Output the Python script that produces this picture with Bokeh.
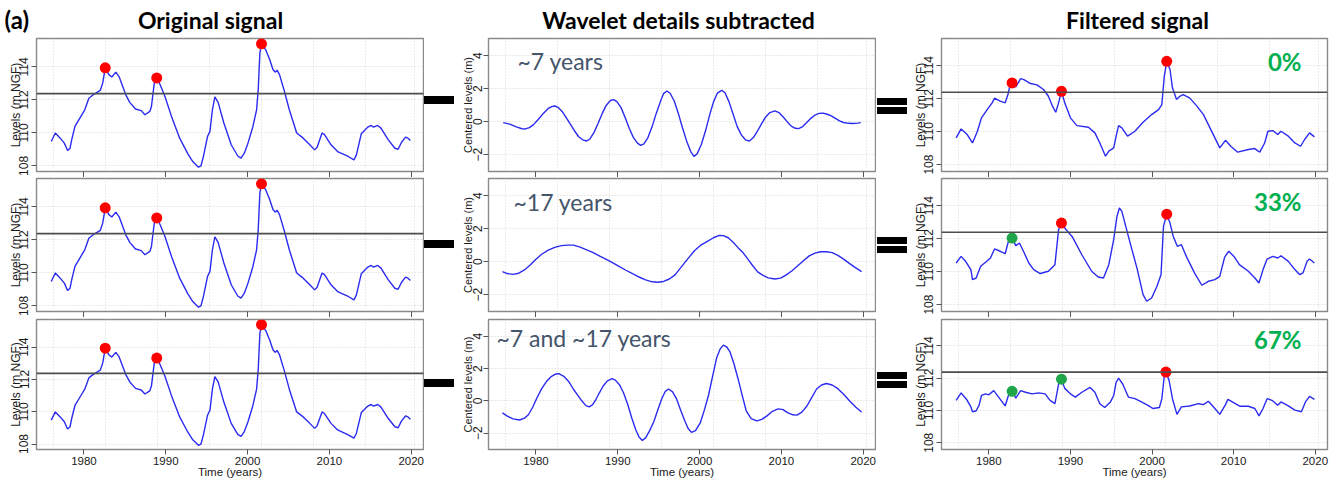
from bokeh.plotting import figure
from bokeh.models import Span, Label, FixedTicker, Range1d, Div, ColumnDataSource
from bokeh.layouts import row, column
from bokeh.core.properties import value
from bokeh.embed import file_html
from bokeh.resources import INLINE

# ---------------- data ----------------
orig_year = [1976.0, 1976.5, 1977.1, 1977.6, 1978.0, 1978.3, 1978.5, 1978.9, 1979.5, 1980.1, 1980.6, 1981.1,
             1982.0, 1982.3, 1982.6, 1983.05, 1983.4, 1983.9, 1984.3, 1985.1, 1985.6, 1986.3, 1987.0, 1987.45,
             1988.05, 1988.25, 1988.6, 1988.9, 1989.3, 1989.9, 1990.7, 1991.7, 1992.7, 1993.3, 1994.0, 1994.3,
             1994.6, 1995.1, 1995.4, 1995.7, 1996.0, 1996.4, 1997.1, 1998.0, 1998.8, 1999.2, 1999.6, 2000.05,
             2000.65, 2001.1, 2001.3, 2001.5, 2001.7, 2002.2, 2002.7, 2003.1, 2003.4, 2003.6, 2003.9, 2004.5,
             2005.1, 2006.0, 2006.8, 2007.6, 2008.2, 2008.5, 2009.1, 2009.4, 2010.2, 2011.0, 2012.3, 2013.0,
             2013.3, 2013.9, 2014.7, 2015.1, 2015.4, 2015.9, 2016.3, 2017.2, 2018.0, 2018.4, 2018.8, 2019.3,
             2019.6, 2019.9]
orig_level = [109.48, 109.99, 109.68, 109.38, 108.93, 109.07, 109.58, 110.39, 110.9, 111.4, 112.1, 112.3,
              112.58, 113.03, 113.94, 113.53, 113.39, 113.68, 113.4, 112.32, 111.85, 111.45, 111.35, 111.1,
              111.3, 111.6, 113.03, 113.33, 112.93, 112.2, 111.0, 109.68, 108.73, 108.26, 107.92, 108.0,
              108.57, 109.78, 110.09, 111.4, 112.18, 111.85, 110.6, 109.28, 108.6, 108.47, 108.77, 109.38,
              110.39, 111.4, 112.62, 114.85, 115.4, 115.05, 114.45, 113.84, 113.68, 113.8, 113.53, 112.52,
              111.4, 109.99, 109.68, 109.28, 108.97, 109.13, 109.99, 109.89, 109.28, 108.87, 108.57, 108.36,
              108.67, 109.95, 110.35, 110.45, 110.35, 110.45, 110.29, 109.58, 109.07, 109.01, 109.42, 109.74,
              109.68, 109.54]
orig_peak_year = [1982.6, 1988.9, 2001.7]
orig_peak_level = [113.94, 113.33, 115.4]

d7_year = [1976.0, 1976.8, 1977.6, 1978.3, 1978.7, 1979.2, 1979.7, 1980.3, 1980.9, 1981.5, 1982.0, 1982.3,
           1982.7, 1983.2, 1983.7, 1984.2, 1984.7, 1985.2, 1985.7, 1986.2, 1986.6, 1987.1, 1987.6, 1988.1,
           1988.6, 1989.1, 1989.5, 1989.9, 1990.4, 1990.9, 1991.4, 1991.9, 1992.4, 1992.8, 1993.2, 1993.7,
           1994.2, 1994.7, 1995.2, 1995.6, 1996.0, 1996.4, 1996.9, 1997.4, 1997.9, 1998.4, 1998.9, 1999.3,
           1999.7, 2000.2, 2000.7, 2001.2, 2001.7, 2002.2, 2002.7, 2003.1, 2003.6, 2004.1, 2004.6, 2005.1,
           2005.6, 2006.1, 2006.6, 2007.1, 2007.6, 2008.1, 2008.6, 2009.2, 2009.7, 2010.2, 2010.7, 2011.2,
           2011.7, 2012.1, 2012.6, 2013.1, 2013.6, 2014.1, 2014.6, 2015.1, 2015.6, 2016.1, 2016.6, 2017.1,
           2017.6, 2018.2, 2018.8, 2019.3, 2019.7]
d7_value = [-0.06, -0.15, -0.32, -0.43, -0.44, -0.36, -0.18, 0.15, 0.5, 0.8, 0.93, 0.95,
            0.87, 0.62, 0.25, -0.15, -0.55, -0.9, -1.1, -1.17, -1.05, -0.65, -0.1, 0.5,
            1.0, 1.28, 1.34, 1.22, 0.85, 0.25, -0.4, -0.95, -1.3, -1.44, -1.35, -0.95,
            -0.3, 0.5, 1.2, 1.7, 1.86, 1.72, 1.25, 0.5, -0.35, -1.15, -1.8, -2.1,
            -1.95, -1.4, -0.6, 0.35, 1.2, 1.75, 1.9, 1.75, 1.2, 0.45, -0.3, -0.8,
            -1.1, -1.17, -0.95, -0.55, -0.1, 0.3, 0.55, 0.65, 0.55, 0.3, 0.0, -0.27,
            -0.4, -0.42, -0.3, -0.05, 0.2, 0.4, 0.5, 0.52, 0.45, 0.35, 0.2, 0.05,
            -0.05, -0.1, -0.11, -0.09, -0.06]

d17_year = [1975.9, 1976.5, 1977.2, 1977.9, 1978.6, 1979.3, 1980.0, 1980.7, 1981.5, 1982.3, 1983.1, 1983.9,
            1984.6, 1985.4, 1986.2, 1987.0, 1987.8, 1988.6, 1989.4, 1990.2, 1991.0, 1991.8, 1992.6, 1993.4,
            1994.2, 1994.9, 1995.6, 1996.3, 1997.0, 1997.8, 1998.6, 1999.4, 2000.2, 2000.9, 2001.7, 2002.4,
            2002.9, 2003.5, 2004.1, 2004.7, 2005.3, 2005.9, 2006.5, 2007.1, 2007.8, 2008.4, 2009.2, 2009.9,
            2010.6, 2011.3, 2012.0, 2012.7, 2013.4, 2014.1, 2014.8, 2015.5, 2016.2, 2016.9, 2017.6, 2018.3,
            2019.0, 2019.8]
d17_value = [-0.6, -0.72, -0.77, -0.7, -0.5, -0.2, 0.15, 0.45, 0.7, 0.87, 0.97, 1.0,
             1.0, 0.88, 0.72, 0.55, 0.33, 0.14, -0.08, -0.3, -0.52, -0.73, -0.93, -1.1,
             -1.22, -1.25, -1.2, -1.05, -0.8, -0.3, 0.2, 0.68, 1.02, 1.22, 1.45, 1.59,
             1.58, 1.45, 1.18, 0.85, 0.55, 0.15, -0.25, -0.62, -0.85, -0.98, -1.05, -1.0,
             -0.8, -0.55, -0.25, 0.05, 0.35, 0.52, 0.6, 0.6, 0.55, 0.38, 0.15, -0.1,
             -0.35, -0.6]

d717_year = [1975.9, 1976.5, 1977.2, 1978.0, 1978.6, 1979.1, 1979.6, 1980.1, 1980.7, 1981.3, 1981.9, 1982.4,
             1982.8, 1983.4, 1984.0, 1984.6, 1985.1, 1985.6, 1986.1, 1986.5, 1986.9, 1987.3, 1987.7, 1988.2,
             1988.7, 1989.3, 1989.7, 1990.2, 1990.7, 1991.2, 1991.7, 1992.2, 1992.6, 1993.0, 1993.4, 1993.9,
             1994.4, 1994.9, 1995.4, 1995.8, 1996.2, 1996.7, 1997.2, 1997.7, 1998.2, 1998.6, 1999.0, 1999.5,
             2000.1, 2000.6, 2001.1, 2001.6, 2002.1, 2002.5, 2002.9, 2003.3, 2003.7, 2004.2, 2004.7, 2005.2,
             2005.7, 2006.3, 2007.0, 2007.6, 2008.2, 2008.9, 2009.6, 2010.2, 2010.8, 2011.4, 2011.9, 2012.5,
             2013.1, 2013.7, 2014.3, 2014.9, 2015.5, 2016.2, 2016.9, 2017.6, 2018.4, 2019.1, 2019.8]
d717_value = [-0.75, -0.95, -1.12, -1.19, -1.08, -0.85, -0.4, 0.16, 0.75, 1.21, 1.52, 1.66,
              1.68, 1.52, 1.2, 0.7, 0.35, 0.0, -0.3, -0.38, -0.25, 0.05, 0.45, 0.9,
              1.22, 1.37, 1.28, 1.0, 0.5, -0.2, -1.05, -1.8, -2.25, -2.46, -2.3, -1.85,
              -1.3, -0.55, 0.16, 0.58, 0.73, 0.55, 0.1, -0.6, -1.25, -1.72, -1.96, -1.85,
              -1.35, -0.55, 0.36, 1.55, 2.69, 3.2, 3.45, 3.35, 3.05, 2.3, 1.37, 0.35,
              -0.62, -1.1, -1.25, -1.15, -0.95, -0.65, -0.5, -0.55, -0.75, -0.87, -0.89, -0.7,
              -0.34, 0.2, 0.73, 0.98, 1.07, 0.98, 0.75, 0.4, -0.04, -0.4, -0.69]

f0_year = [1976.0, 1976.6, 1977.35, 1978.0, 1978.6, 1979.1, 1979.8, 1980.4, 1980.7, 1981.4, 1982.0, 1982.4,
           1982.6, 1982.85, 1983.3, 1983.9, 1984.3, 1985.1, 1985.9, 1986.7, 1987.3, 1987.8, 1988.2, 1988.55,
           1988.9, 1989.3, 1990.0, 1990.8, 1992.2, 1993.0, 1993.6, 1994.3, 1994.7, 1995.3, 1995.6, 1995.9,
           1996.3, 1997.0, 1997.9, 1998.9, 1999.95, 2000.8, 2001.2, 2001.5, 2001.8, 2002.2, 2002.5, 2003.0,
           2003.4, 2003.8, 2004.6, 2005.5, 2006.3, 2006.9, 2007.7, 2008.3, 2009.0, 2009.65, 2010.5, 2011.8,
           2012.6, 2013.2, 2013.8, 2014.2, 2014.8, 2015.4, 2015.8, 2016.7, 2017.5, 2018.2, 2018.7, 2019.3,
           2019.9]
f0_level = [109.62, 110.16, 109.82, 109.31, 110.02, 110.83, 111.33, 111.74, 112.02, 111.84, 111.74, 112.34,
            112.85, 112.95, 112.7, 113.21, 113.15, 112.91, 112.83, 112.55, 112.14, 111.54, 111.17, 111.74,
            112.44, 111.74, 110.83, 110.36, 110.26, 109.92, 109.31, 108.51, 108.81, 109.01, 109.72, 110.36,
            110.22, 109.72, 110.02, 110.57, 111.03, 111.33, 111.64, 113.35, 114.26, 113.76, 112.65, 111.94,
            112.14, 112.24, 112.04, 111.54, 111.03, 110.42, 109.62, 109.01, 109.47, 109.11, 108.75, 108.91,
            108.97, 108.75, 109.31, 110.02, 110.06, 109.82, 110.02, 109.72, 109.31, 109.11, 109.52, 109.92,
            109.68]
f0_peak_year = [1982.85, 1988.9, 2001.8]
f0_peak_level = [112.95, 112.44, 114.26]
f0_peak_status = ["above", "above", "above"]

f33_year = [1976.0, 1976.6, 1977.15, 1977.8, 1978.0, 1978.45, 1979.0, 1979.6, 1980.2, 1980.7, 1981.4, 1982.0,
            1982.4, 1982.85, 1983.3, 1983.75, 1984.3, 1984.9, 1985.5, 1986.3, 1987.3, 1988.1, 1988.55, 1988.9,
            1989.4, 1990.2, 1991.4, 1992.6, 1993.4, 1994.05, 1994.7, 1995.3, 1995.7, 1996.0, 1996.3, 1997.1,
            1998.2, 1998.9, 1999.35, 1999.95, 2000.6, 2001.1, 2001.4, 2001.8, 2002.2, 2002.6, 2003.1, 2003.6,
            2004.2, 2005.2, 2006.1, 2006.9, 2007.7, 2008.3, 2008.9, 2009.4, 2010.1, 2010.7, 2011.8, 2012.6,
            2013.1, 2013.6, 2014.1, 2014.8, 2015.4, 2015.8, 2016.7, 2017.5, 2018.1, 2018.5, 2019.0, 2019.3,
            2019.9]
f33_level = [110.52, 110.92, 110.62, 110.12, 109.51, 109.61, 110.32, 110.56, 110.82, 111.37, 111.23, 111.08,
             111.83, 112.03, 111.57, 111.73, 111.17, 110.52, 110.12, 109.88, 110.02, 110.42, 112.54, 112.94,
             112.58, 112.13, 111.02, 110.02, 109.67, 109.61, 110.42, 111.93, 113.34, 113.85, 113.65, 112.13,
             110.12, 108.6, 108.2, 108.4, 109.11, 109.81, 112.74, 113.48, 112.94, 112.13, 111.53, 111.63,
             110.92, 109.92, 109.17, 109.41, 109.51, 109.71, 110.88, 111.23, 110.88, 110.42, 110.02, 109.61,
             109.31, 110.12, 110.76, 110.92, 110.82, 110.96, 110.62, 110.12, 109.81, 109.92, 110.62, 110.76,
             110.52]
f33_peak_year = [1982.85, 1988.9, 2001.8]
f33_peak_level = [112.03, 112.94, 113.48]
f33_peak_status = ["below", "above", "above"]

f67_year = [1976.0, 1976.6, 1977.35, 1977.8, 1978.0, 1978.45, 1978.8, 1979.1, 1979.6, 1980.0, 1980.6, 1981.2,
            1982.0, 1982.4, 1982.85, 1983.3, 1983.9, 1984.5, 1985.3, 1986.1, 1986.9, 1987.5, 1988.1, 1988.55,
            1988.9, 1989.3, 1990.0, 1990.6, 1991.4, 1992.4, 1993.0, 1993.6, 1994.2, 1994.9, 1995.3, 1995.6,
            1995.9, 1996.4, 1997.1, 1997.9, 1998.7, 1999.5, 2000.1, 2000.9, 2001.2, 2001.5, 2001.7, 2002.1,
            2002.5, 2003.05, 2003.6, 2004.6, 2005.7, 2006.3, 2006.9, 2007.7, 2008.3, 2009.0, 2009.3, 2010.2,
            2010.8, 2011.8, 2012.6, 2013.1, 2013.6, 2014.1, 2014.7, 2015.4, 2015.8, 2016.7, 2017.5, 2018.3,
            2018.8, 2019.3, 2019.9]
f67_level = [110.63, 111.09, 110.63, 110.22, 109.92, 109.98, 110.32, 110.93, 111.03, 110.97, 111.23, 110.83,
             110.28, 110.93, 111.19, 110.77, 111.23, 111.13, 111.03, 111.09, 111.03, 110.63, 110.42, 111.64,
             111.94, 111.37, 111.03, 110.83, 111.13, 111.43, 111.13, 110.42, 110.18, 110.53, 110.93, 111.74,
             112.0, 111.64, 110.83, 110.73, 110.53, 110.32, 110.12, 110.18, 110.73, 112.14, 112.38, 111.84,
             110.73, 109.76, 110.22, 110.28, 110.42, 110.36, 110.57, 110.12, 109.76, 110.36, 110.69, 110.42,
             110.26, 110.26, 110.12, 109.66, 110.12, 110.73, 110.63, 110.32, 110.53, 110.28, 110.02, 109.92,
             110.53, 110.87, 110.69]
f67_peak_year = [1982.85, 1988.9, 2001.7]
f67_peak_level = [111.19, 111.94, 112.38]
f67_peak_status = ["below", "below", "above"]

THRESHOLD = 112.38
year_ticks = [1980, 1990, 2000, 2010, 2020]
grid_years = [1976.3, 1982.65, 1989.0, 1995.35, 2001.7, 2008.05, 2014.4, 2020.4]
level_ticks = [108, 110, 112, 114]
centered_ticks = [-2, 0, 2, 4]

panel_tag = "(a)"
column_titles = ["Original signal", "Wavelet details subtracted", "Filtered signal"]
detail_labels = ["~7 years", "~17 years", "~7 and ~17 years"]
percent_labels = ["0%", "33%", "67%"]
y_labels = ["Levels (m NGF)", "Centered levels (m)", "Levels (m NGF)"]
x_label = "Time (years)"

# ---------------- styling / geometry (page has no margin) ----------------
HEADER_H = 37
X_RANGE = (1974.2, 2021.5)
Y_RANGES = [(107.66, 115.72), (-3.02, 5.04), (107.58, 115.64)]
FIG_W = [424, 418, 425]
BORDER_L = [36, 30, 30]
BORDER_R = [1, 1, 8]
FIG_H = [140, 140, 163]
BORDER_T = [1, 1, 2]
BORDER_B = [6, 6, 31]
DIV_W = 34
TITLE_CX = [210, 678, 1137]
TAG_X = 4
HEADER_TEXT_Y = 18
DETAIL_POS = [(29, 111), (25, 109.5), (8, 112)]
PERCENT_POS = (360, 110.5)

BLUE = "#2b2bf0"
STATUS_COLOR = {"above": "#ff0000", "below": "#1fa64a"}
TICK_FONT = "Liberation Sans"
TOTAL_W = sum(FIG_W) + 2 * DIV_W


def make_header():
    h = figure(width=TOTAL_W, height=HEADER_H, x_range=Range1d(0, TOTAL_W), y_range=Range1d(0, HEADER_H),
               output_backend="svg", toolbar_location=None, min_border=0)
    h.axis.visible = False
    h.grid.visible = False
    h.outline_line_color = None
    h.background_fill_color = "white"
    h.border_fill_color = "white"
    h.text(x=TITLE_CX, y=[HEADER_TEXT_Y] * 3, text=column_titles, text_font=value("Lato"),
           text_font_style="bold", text_font_size="23px", text_align="center", text_baseline="middle",
           text_color="#000000")
    h.text(x=[TAG_X], y=[HEADER_TEXT_Y], text=[panel_tag], text_font=value("Lato"),
           text_font_style="bold", text_font_size="24px", text_align="left", text_baseline="middle",
           text_color="#000000")
    return h


def make_panel(ci, ri):
    p = figure(width=FIG_W[ci], height=FIG_H[ri], x_range=Range1d(*X_RANGE), y_range=Range1d(*Y_RANGES[ci]),
               output_backend="svg", toolbar_location=None,
               min_border_left=BORDER_L[ci], min_border_right=BORDER_R[ci],
               min_border_top=BORDER_T[ri], min_border_bottom=BORDER_B[ri])
    p.outline_line_color = "#8a8a8a"
    p.outline_line_width = 1.4
    p.background_fill_color = "white"
    p.border_fill_color = "white"

    xa = p.xaxis[0]
    xa.ticker = FixedTicker(ticks=year_ticks)
    xa.major_tick_out = 6 if ri != 2 else 5
    xa.major_tick_in = 0
    xa.minor_tick_out = 0
    xa.minor_tick_in = 0
    xa.axis_line_color = "#8a8a8a"
    xa.major_tick_line_color = "#555555"
    xa.major_label_text_font = TICK_FONT
    if ri == 2:
        xa.major_label_text_color = "#1a1a1a"
        xa.major_label_text_font_size = "11.5px"
        xa.major_label_standoff = 2
        xa.axis_label = x_label
        xa.axis_label_text_font = TICK_FONT
        xa.axis_label_text_font_style = "normal"
        xa.axis_label_text_font_size = "11.5px"
        xa.axis_label_text_color = "#1a1a1a"
        xa.axis_label_standoff = -2
    else:
        xa.major_label_text_color = None
        xa.major_label_text_font_size = "0px"
        xa.major_label_standoff = 0

    ya = p.yaxis[0]
    ya.ticker = FixedTicker(ticks=centered_ticks if ci == 1 else level_ticks)
    ya.major_tick_out = 5
    ya.major_tick_in = 0
    ya.minor_tick_out = 0
    ya.minor_tick_in = 0
    ya.axis_line_color = "#8a8a8a"
    ya.major_tick_line_color = "#555555"
    ya.major_label_orientation = "vertical"
    ya.major_label_text_font = TICK_FONT
    ya.major_label_text_font_size = "12px"
    ya.major_label_text_color = "#1a1a1a"
    ya.major_label_standoff = 3 if ci != 1 else 1
    ya.axis_label = y_labels[ci]
    ya.axis_label_text_font = TICK_FONT
    ya.axis_label_text_font_style = "normal"
    ya.axis_label_text_font_size = "12px" if ci != 1 else "11px"
    ya.axis_label_text_color = "#1a1a1a"
    ya.axis_label_standoff = -6 if ci != 1 else -3

    p.xgrid.ticker = FixedTicker(ticks=grid_years)
    p.ygrid.ticker = FixedTicker(ticks=centered_ticks if ci == 1 else level_ticks)
    for g in (p.xgrid[0], p.ygrid[0]):
        g.grid_line_color = "#d4d4d4"
        g.grid_line_dash = "1 2"
        g.grid_line_width = 1
    return p


def add_peaks(p, years, levels, statuses):
    src = ColumnDataSource(dict(x=years, y=levels, c=[STATUS_COLOR[s] for s in statuses]))
    p.scatter("x", "y", source=src, size=11, fill_color="c", line_color=None)


panels = [[None] * 3 for _ in range(3)]

# column 1: original signal (same in all rows)
for ri in range(3):
    p = make_panel(0, ri)
    p.add_layout(Span(location=THRESHOLD, dimension="width", line_color="#4d4d4d", line_width=1.6))
    p.line(orig_year, orig_level, line_color=BLUE, line_width=1.4)
    add_peaks(p, orig_peak_year, orig_peak_level, ["above"] * 3)
    panels[0][ri] = p

# column 2: wavelet details
details = [(d7_year, d7_value), (d17_year, d17_value), (d717_year, d717_value)]
for ri in range(3):
    p = make_panel(1, ri)
    p.line(details[ri][0], details[ri][1], line_color=BLUE, line_width=1.4)
    dx, dy = DETAIL_POS[ri]
    p.add_layout(Label(x=dx, y=dy, x_units="screen", y_units="screen", text=detail_labels[ri],
                       text_font="Lato", text_font_size="23px", text_color="#44546a",
                       text_align="left", text_baseline="middle"))
    panels[1][ri] = p

# column 3: filtered signal
filtered = [(f0_year, f0_level, f0_peak_year, f0_peak_level, f0_peak_status),
            (f33_year, f33_level, f33_peak_year, f33_peak_level, f33_peak_status),
            (f67_year, f67_level, f67_peak_year, f67_peak_level, f67_peak_status)]
for ri in range(3):
    fy, fl, py, pl, ps = filtered[ri]
    p = make_panel(2, ri)
    p.add_layout(Span(location=THRESHOLD, dimension="width", line_color="#4d4d4d", line_width=1.6))
    p.line(fy, fl, line_color=BLUE, line_width=1.4)
    add_peaks(p, py, pl, ps)
    p.add_layout(Label(x=PERCENT_POS[0], y=PERCENT_POS[1], x_units="screen", y_units="screen",
                       text=percent_labels[ri], text_font="Lato", text_font_style="bold",
                       text_font_size="24px", text_color="#00b050", text_align="right",
                       text_baseline="middle"))
    panels[2][ri] = p


def boxes_div(boxes, width, height):
    html = '<div style="position:relative;width:%dpx;height:%dpx;">' % (width, height)
    for (l, t, w, h) in boxes:
        html += ('<div style="position:absolute;left:%dpx;top:%dpx;width:%dpx;height:%dpx;'
                 'background:#000;"></div>' % (l, t, w, h))
    html += '</div>'
    return Div(text=html, width=width, height=height, margin=(0, 0, 0, 0))


BODY_H = sum(FIG_H)
minus_div = boxes_div([(0, 59, 30, 8), (0, 203, 30, 8), (0, 342, 30, 8)], DIV_W, BODY_H)
equals_div = boxes_div([(1, 61, 30, 7), (1, 70, 30, 7), (1, 200, 30, 7), (1, 209, 30, 7),
                        (1, 335, 30, 7), (1, 344, 30, 7)], DIV_W, BODY_H)

body = row(column(*panels[0], spacing=0), minus_div, column(*panels[1], spacing=0), equals_div,
           column(*panels[2], spacing=0), spacing=0)
layout = column(make_header(), body, spacing=0)

open("out.html", "w").write(file_html(layout, INLINE))
